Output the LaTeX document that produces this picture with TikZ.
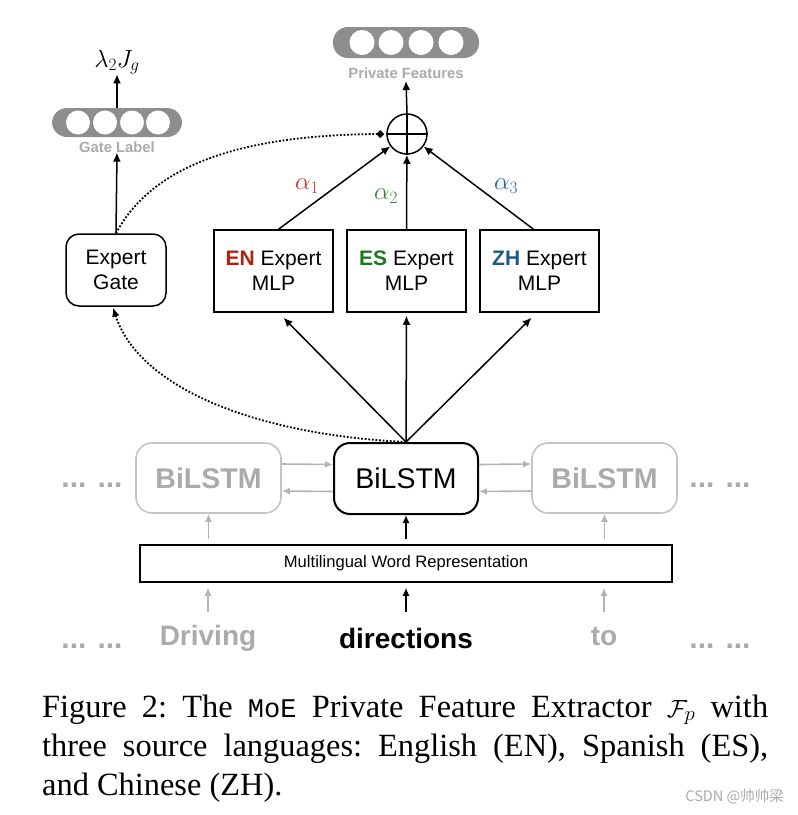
\documentclass[tikz,border=0pt]{standalone}
\usepackage{fontspec}
\setmainfont{Liberation Serif}
\setsansfont{Liberation Sans}
\setmonofont{Liberation Mono}
\newfontfamily\cjkfont{Noto Sans CJK SC}
\usetikzlibrary{arrows.meta}
\definecolor{enred}{HTML}{B3200F}
\definecolor{esgreen}{HTML}{1B7A1B}
\definecolor{zhblue}{HTML}{1C5A8E}
\definecolor{ared}{HTML}{C8352A}
\definecolor{agreen}{HTML}{2E8B2E}
\definecolor{ablue}{HTML}{2B6499}
\definecolor{pillgray}{HTML}{8E8E8E}
\definecolor{lightgray}{HTML}{ABABAB}
\definecolor{bordergray}{HTML}{C4C4C4}
\definecolor{arrowgray}{HTML}{B4B4B4}
\begin{document}
\begin{tikzpicture}[x=1pt,y=-1pt,font=\sffamily,
  arr/.style={line width=1.5pt,-{Latex[length=9pt,width=8pt]}},
  garr/.style={line width=1.6pt,draw=arrowgray,-{Latex[length=8pt,width=7pt]}},
  dotline/.style={line width=1.8pt,dash pattern=on 1.8pt off 1.8pt},
  pill/.style={fill=pillgray,draw=none,rounded corners=15pt,inner sep=0pt},
  pilllabel/.style={font=\sffamily\bfseries\fontsize{14.8}{16}\selectfont,text=lightgray,inner sep=0pt},
  mlpbox/.style={draw,line width=1.5pt,minimum width=119pt,minimum height=82pt,inner sep=0pt,align=center,font=\sffamily\fontsize{21}{25}\selectfont},
  gatebox/.style={draw,line width=1.5pt,rounded corners=13pt,minimum width=100pt,minimum height=72pt,inner sep=0pt,align=center,font=\sffamily\fontsize{21}{25}\selectfont},
  lstm/.style={draw,line width=2pt,rounded corners=16pt,minimum width=144pt,minimum height=71pt,inner sep=0pt,font=\sffamily\fontsize{28.5}{32}\selectfont},
  glstm/.style={draw=bordergray,line width=1.6pt,rounded corners=16pt,minimum width=145pt,minimum height=70pt,inner sep=0pt,text=lightgray,font=\sffamily\bfseries\fontsize{28.5}{32}\selectfont},
  word/.style={inner sep=0pt,font=\sffamily\bfseries\fontsize{28}{32}\selectfont},
  dots/.style={inner sep=0pt,text=lightgray,font=\sffamily\bfseries\fontsize{30}{32}\selectfont},
  alab/.style={inner sep=0pt,font=\fontsize{23}{26}\selectfont}]
\useasboundingbox (0,0) rectangle (798,815);
\fill[white] (0,0) rectangle (798,815);

% gate label pill
\node[pill,minimum width=130pt,minimum height=29pt] (gl) at (117,122.5) {};
\foreach \x in {78,105,132,158} \fill[white] (\x,122.5) circle (12);
\node[pilllabel] (gltext) at (117,147) {Gate Label};
\node[inner sep=0pt,font=\fontsize{26}{28}\selectfont] (lam) at (117,62) {$\lambda_2 J_g$};
\draw[arr] (gl.north) -- (lam.south);

% private features pill
\node[pill,minimum width=146pt,minimum height=31pt] (pf) at (406,42.5) {};
\foreach \x in {362,391,421,451} \fill[white] (\x,42.5) circle (12.5);
\node[pilllabel] (pftext) at (406,73) {Private Features};

% plus
\node[draw,circle,line width=1.5pt,minimum size=40pt,inner sep=0pt] (plus) at (407,134) {};
\draw[line width=1.5pt] (plus.north) -- (plus.south) (plus.west) -- (plus.east);
\draw[arr] (plus.north) -- (406,81);

% experts
\node[mlpbox] (en) at (273.5,271) {\textbf{\color{enred}EN} Expert\\MLP};
\node[mlpbox] (es) at (406.5,271) {\textbf{\color{esgreen}ES} Expert\\MLP};
\node[mlpbox] (zh) at (539.5,271) {\textbf{\color{zhblue}ZH} Expert\\MLP};
\node[gatebox] (eg) at (116,270) {Expert\\Gate};

\draw[arr] ([xshift=5pt]en.north) -- (plus);
\draw[arr] (es.north) -- (plus);
\draw[arr] ([xshift=-6pt]zh.north) -- (plus);
\node[alab,text=ared] (a1) at (307,186) {$\alpha_1$};
\node[alab,text=agreen] (a2) at (386,196) {$\alpha_2$};
\node[alab,text=ablue] (a3) at (506,186) {$\alpha_3$};

\draw[arr] (eg.north) -- (gltext.south);
\draw[dotline,-{Diamond[length=8pt,width=8pt]}] (eg.north) .. controls (150,170) and (230,135) .. ([xshift=-2pt]plus.west);

% BiLSTMs
\node[lstm] (bl) at (406,478.5) {BiLSTM};
\node[glstm] (lb) at (208.5,478) {BiLSTM};
\node[glstm] (rb) at (604.5,478) {BiLSTM};
\node[dots] (ld) at (92,485) {... ...};
\node[dots] (rd) at (720,485) {... ...};

\draw[garr] ([yshift=14pt]lb.east) -- ([yshift=14pt]bl.west);
\draw[garr] ([yshift=-13pt]bl.west) -- ([yshift=-13pt]lb.east);
\draw[garr] ([yshift=14pt]bl.east) -- ([yshift=14pt]rb.west);
\draw[garr] ([yshift=-13pt]rb.west) -- ([yshift=-13pt]bl.east);

\draw[arr] (bl.north) -- ([xshift=10pt,yshift=-5pt]en.south);
\draw[arr] (bl.north) -- ([yshift=-3pt]es.south);
\draw[arr] (bl.north) -- ([xshift=-8pt,yshift=-5pt]zh.south);
\draw[dotline,-{Latex[length=9pt,width=8pt]}] (bl.north) .. controls (260,435) and (140,390) .. ([xshift=-3pt,yshift=-1pt]eg.south);

% word representation
\node[draw,line width=1.5pt,minimum width=532pt,minimum height=37pt,inner sep=0pt,font=\sffamily\fontsize{16.6}{18}\selectfont] (mwr) at (406,563.5) {Multilingual Word Representation};
\draw[garr] ([xshift=-197.5pt,yshift=5pt]mwr.north) -- (lb.south);
\draw[arr,-{Latex[length=8pt,width=7pt]}] ([yshift=5pt]mwr.north) -- (bl.south);
\draw[garr] ([xshift=198.5pt,yshift=5pt]mwr.north) -- (rb.south);

% words
\node[word,text=lightgray] (w1) at (208,638) {Driving};
\node[word] (w2) at (406,638) {directions};
\node[word,text=lightgray] (w3) at (604,636) {to};
\node[dots] (ld2) at (92,646) {... ...};
\node[dots] (rd2) at (720,646) {... ...};
\coordinate (s1) at (208,612);
\coordinate (s2) at (406,612);
\coordinate (s3) at (604,612);
\draw[garr] (s1) -- ([yshift=-5pt]mwr.south -| s1);
\draw[arr,-{Latex[length=8pt,width=7pt]}] (s2) -- ([yshift=-5pt]mwr.south);
\draw[garr] (s3) -- ([yshift=-5pt]mwr.south -| s3);

% caption
\node[anchor=base west,inner sep=0pt,font=\rmfamily\fontsize{32.4}{39}\selectfont] (cap) at (42,717)
  {\parbox[t]{726pt}{\frenchspacing Figure 2: The {\ttfamily\fontsize{27}{39}\selectfont MoE} Private Feature Extractor $\mathcal{F}_p$ with\linebreak three source languages: English (EN), Spanish (ES),\linebreak and Chinese (ZH).}};
\node[anchor=east,inner sep=0pt,text=lightgray,font=\cjkfont\fontsize{14.5}{16}\selectfont] (wm) at (784,797) {CSDN @帅帅梁};
\end{tikzpicture}
\end{document}
